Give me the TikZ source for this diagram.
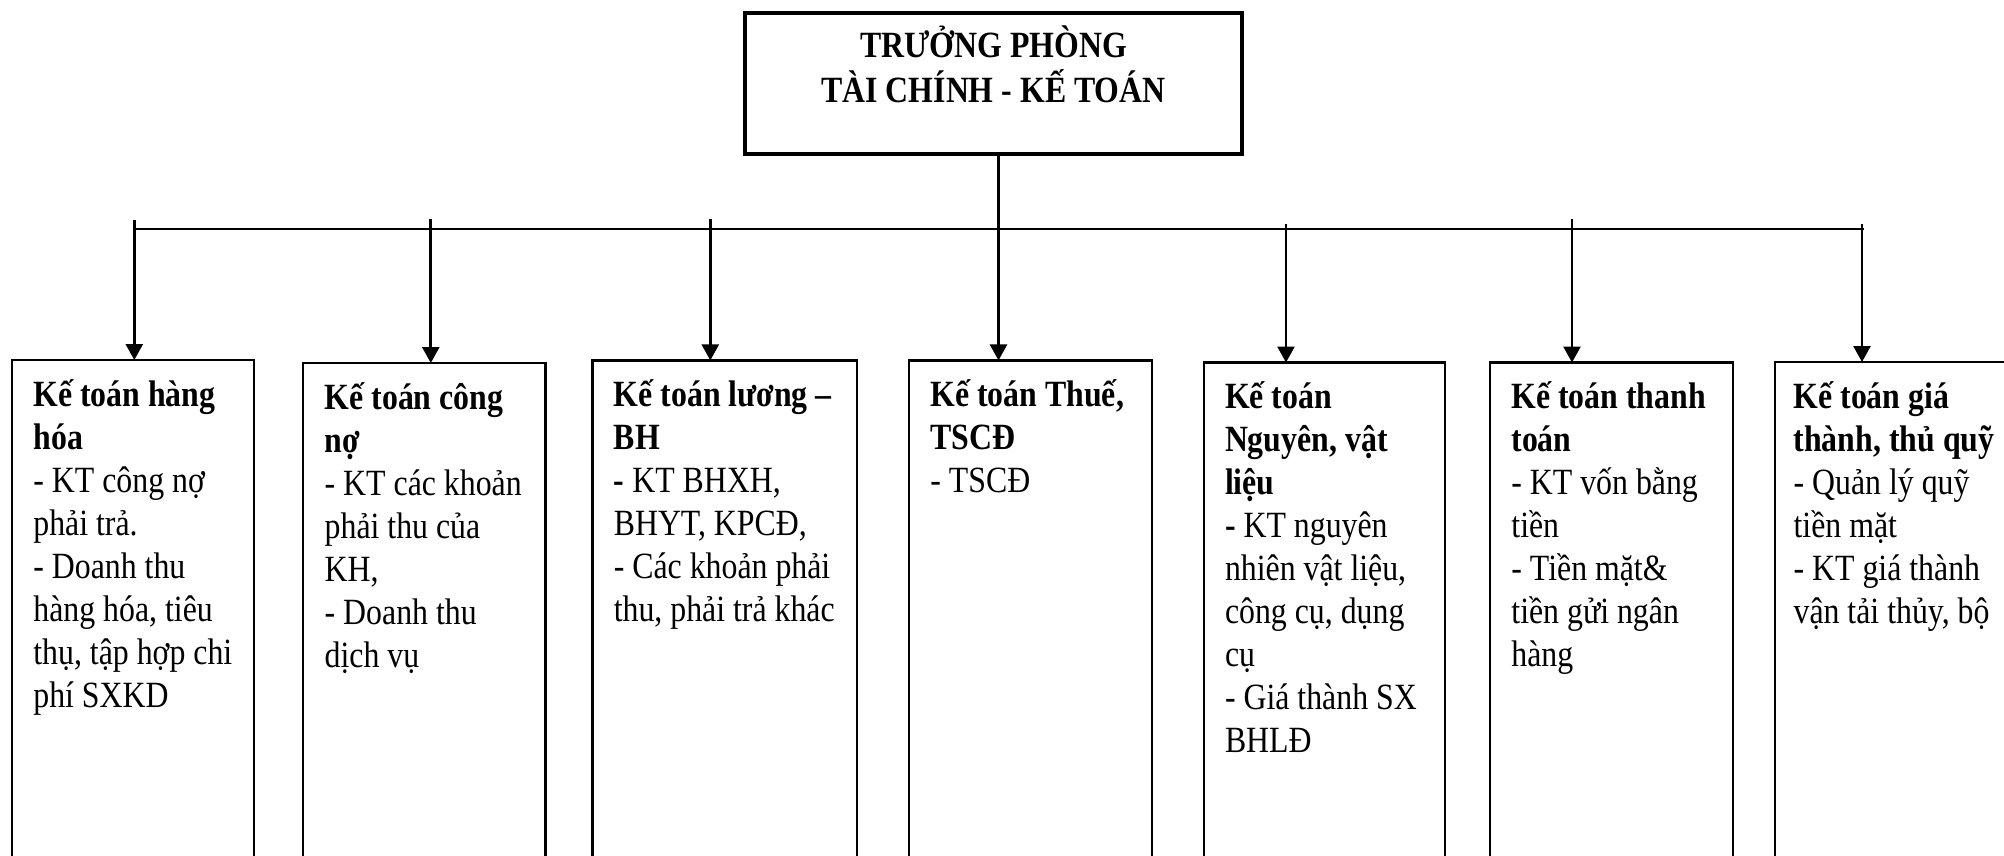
\documentclass[tikz,border=0pt]{standalone}
\usepackage{fontspec}
\setmainfont{Liberation Serif}[FakeStretch=0.86]
\usetikzlibrary{arrows.meta}

\begin{document}
\begin{tikzpicture}[x=0.5pt,y=-0.5pt,
  unitbox/.style={draw, line width=1.1pt, rectangle, inner sep=0pt, outer sep=0pt,
    anchor=north west, minimum height=300pt},
  headbox/.style={draw, line width=2pt, rectangle, inner sep=0pt, outer sep=0pt,
    anchor=north west, minimum width=248.5pt, minimum height=70.2pt},
  bodytext/.style={anchor=north west, inner sep=0pt, align=left,
    font=\fontsize{18.5}{21.5}\selectfont, xshift=10.5pt, yshift=-3pt},
  headtext/.style={anchor=north, inner sep=0pt, align=center,
    font=\fontsize{18.5}{22.5}\selectfont\bfseries},
  feed/.style={line width=1.35pt, -{Triangle[length=8pt,width=8.5pt]}},
  bus/.style={line width=1pt}]
\useasboundingbox (0,0) rectangle (2004,856);
\clip (0,0) rectangle (2004,856);

% head of the department
\node[headbox] (head) at (745,13.3) {};
\node[headtext] (headlbl) at (993.5,17)
  {\rule{0pt}{20pt}TRƯỞNG PHÒNG\\TÀI CHÍNH - KẾ TOÁN};

% the seven accounting units
\node[unitbox, minimum width=121.15pt] (b1) at (12,360) {};
\node[unitbox, minimum width=121.1pt]  (b2) at (303.3,363) {};
\node[unitbox, minimum width=132.15pt] (b3) at (592.4,360.4) {};
\node[unitbox, minimum width=121.4pt]  (b4) at (909,360.4) {};
\node[unitbox, minimum width=120.7pt]  (b5) at (1203.6,362.5) {};
\node[unitbox, minimum width=121.65pt] (b6) at (1490,362.5) {};
\node[unitbox, minimum width=150pt]    (b7) at (1774.7,362) {};

\node[bodytext] (t1) at (b1.north west) {\rule{0pt}{20pt}\textbf{Kế toán hàng}\\
  \textbf{hóa}\\- KT công nợ\\phải trả.\\- Doanh thu\\hàng hóa, tiêu\\thụ, tập hợp chi\\phí SXKD};
\node[bodytext] (t2) at (b2.north west) {\rule{0pt}{20pt}\textbf{Kế toán công}\\
  \textbf{nợ}\\- KT các khoản\\phải thu của\\KH,\\- Doanh thu\\dịch vụ};
\node[bodytext] (t3) at (b3.north west) {\rule{0pt}{20pt}\textbf{Kế toán lương –}\\
  \textbf{BH}\\\textbf{-} KT BHXH,\\BHYT, KPCĐ,\\- Các khoản phải\\thu, phải trả khác};
\node[bodytext] (t4) at (b4.north west) {\rule{0pt}{20pt}\textbf{Kế toán Thuế,}\\
  \textbf{TSCĐ}\\- TSCĐ};
\node[bodytext] (t5) at (b5.north west) {\rule{0pt}{20pt}\textbf{Kế toán}\\
  \textbf{Nguyên, vật}\\\textbf{liệu}\\\textbf{-} KT nguyên\\nhiên vật liệu,\\công cụ, dụng\\cụ\\- Giá thành SX\\BHLĐ};
\node[bodytext] (t6) at (b6.north west) {\rule{0pt}{20pt}\textbf{Kế toán thanh}\\
  \textbf{toán}\\- KT vốn bằng\\tiền\\- Tiền mặt\&\\tiền gửi ngân\\hàng};
\node[bodytext, xshift=-1.25pt] (t7) at (b7.north west) {\rule{0pt}{20pt}\textbf{Kế toán giá}\\
  \textbf{thành, thủ quỹ}\\- Quản lý quỹ\\tiền mặt\\- KT giá thành\\vận tải thủy, bộ};

% distribution bus and feeders
\coordinate (busL) at (134.3,228.5);
\coordinate (busR) at (1864,228.5);
\draw[bus] (busL) -- (busR);

\coordinate (f1) at (134.3,220);
\coordinate (f2) at (430.8,219);
\coordinate (f3) at (710.3,219);
\coordinate (f4) at (998.5,153.7);
\coordinate (f5) at (1286,223.6);
\coordinate (f6) at (1572,219);
\coordinate (f7) at (1862,224);

\draw[feed] (f1) -- (f1 |- b1.north);
\draw[feed] (f2) -- (f2 |- b2.north);
\draw[feed] (f3) -- (f3 |- b3.north);
\draw[feed] (f4) -- (f4 |- b4.north);
\draw[feed] (f5) -- (f5 |- b5.north);
\draw[feed] (f6) -- (f6 |- b6.north);
\draw[feed] (f7) -- (f7 |- b7.north);
\end{tikzpicture}
\end{document}
